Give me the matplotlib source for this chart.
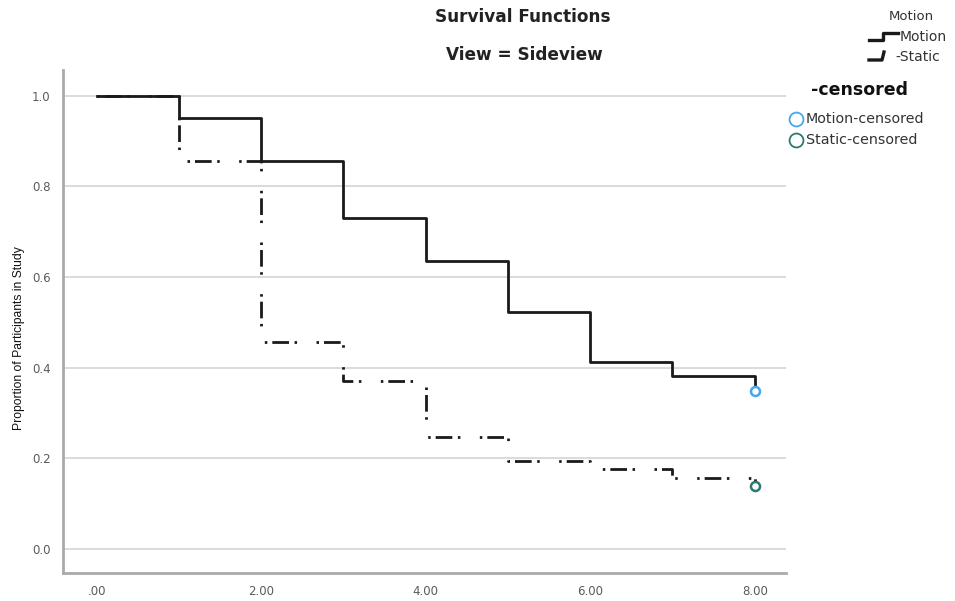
import matplotlib.pyplot as plt
from matplotlib.lines import Line2D

plt.rcParams['font.family'] = ['DejaVu Sans']

# Kaplan-Meier step data
times = [0, 1, 2, 3, 4, 5, 6, 7, 8]
motion_surv = [1.0, 0.952, 0.857, 0.730, 0.635, 0.524, 0.413, 0.381, 0.349]
static_surv = [1.0, 0.857, 0.457, 0.371, 0.248, 0.195, 0.176, 0.157, 0.140]
censor_time = 8
motion_censored = 0.349
static_censored = 0.140

x_ticks = [0, 2, 4, 6, 8]
x_labels = ['.00', '2.00', '4.00', '6.00', '8.00']
y_ticks = [0.0, 0.2, 0.4, 0.6, 0.8, 1.0]

motion_blue = '#45a8ee'
static_teal = '#2b7a72'

fig = plt.figure(figsize=(9.55, 6.01), dpi=100)
ax = fig.add_axes([0.066, 0.0466, 0.757, 0.837])

ax.step(times, motion_surv, where='post', color='#1a1a1a', lw=2.0, zorder=3)
ax.step(times, static_surv, where='post', color='#1a1a1a', lw=2.0, zorder=3,
        linestyle=(0, (0.9, 1.8, 6, 2, 0.9, 7)))
ax.plot([censor_time], [motion_censored], 'o', mfc='white', mec=motion_blue,
        mew=1.8, ms=6.5, zorder=4)
ax.plot([censor_time], [static_censored], 'o', mfc='white', mec=static_teal,
        mew=1.8, ms=6.5, zorder=4)

ax.set_xlim(-0.41, 8.38)
ax.set_ylim(-0.053, 1.057)
ax.set_xticks(x_ticks)
ax.set_xticklabels(x_labels)
ax.set_yticks(y_ticks)
ax.set_yticklabels([f'{v:.1f}' for v in y_ticks])
ax.tick_params(length=0, labelsize=8.5, labelcolor='#5a5a5a', pad=9)
ax.grid(axis='y', color='#d4d4d4', lw=1.2)
ax.set_axisbelow(True)
for s in ['top', 'right']:
    ax.spines[s].set_visible(False)
for s in ['left', 'bottom']:
    ax.spines[s].set_color('#aaaaaa')
    ax.spines[s].set_linewidth(2)

W, H = 955, 601
def px(x, y):
    return x / W, 1 - y / H

fig.text(*px(19, 338), 'Proportion of Participants in Study', rotation=90,
         ha='center', va='center', fontsize=8.7, color='#111111',
         family=['Liberation Sans', 'DejaVu Sans'])

fig.text(*px(523, 17), 'Survival Functions', ha='center', va='center',
         fontsize=12.2, fontweight='bold', color='#222222')
fig.text(*px(524, 55), 'View = Sideview', ha='center', va='center',
         fontsize=12.2, fontweight='bold', color='#222222')

# legend drawn in figure coordinates
fig.text(*px(911, 16), 'Motion', ha='center', va='center', fontsize=9.5, color='#333333')
fig.add_artist(Line2D([px(869, 0)[0], px(883, 0)[0], px(883, 0)[0], px(898, 0)[0]],
                      [px(0, 40)[1], px(0, 40)[1], px(0, 33)[1], px(0, 33)[1]],
                      color='#1a1a1a', lw=2.4))
fig.text(*px(900, 37), 'Motion', ha='left', va='center', fontsize=10, color='#333333')
fig.add_artist(Line2D([px(869, 0)[0], px(882, 0)[0], px(884, 0)[0]],
                      [px(0, 60)[1], px(0, 60)[1], px(0, 52)[1]],
                      color='#1a1a1a', lw=2.4))
fig.text(*px(895, 57), '-Static', ha='left', va='center', fontsize=10, color='#333333')

fig.text(*px(811, 90), '-censored', ha='left', va='center', fontsize=12.5,
         fontweight='bold', color='#111111')
fig.add_artist(Line2D([px(796, 0)[0]], [px(0, 119)[1]], marker='o', mfc='white',
                      mec=motion_blue, mew=1.3, ms=10))
fig.text(*px(806, 119), 'Motion-censored', ha='left', va='center', fontsize=10.3,
         color='#333333')
fig.add_artist(Line2D([px(796, 0)[0]], [px(0, 140)[1]], marker='o', mfc='white',
                      mec=static_teal, mew=1.3, ms=10))
fig.text(*px(806, 140), 'Static-censored', ha='left', va='center', fontsize=10.3,
         color='#333333')

fig.savefig('out.png', dpi=100)
